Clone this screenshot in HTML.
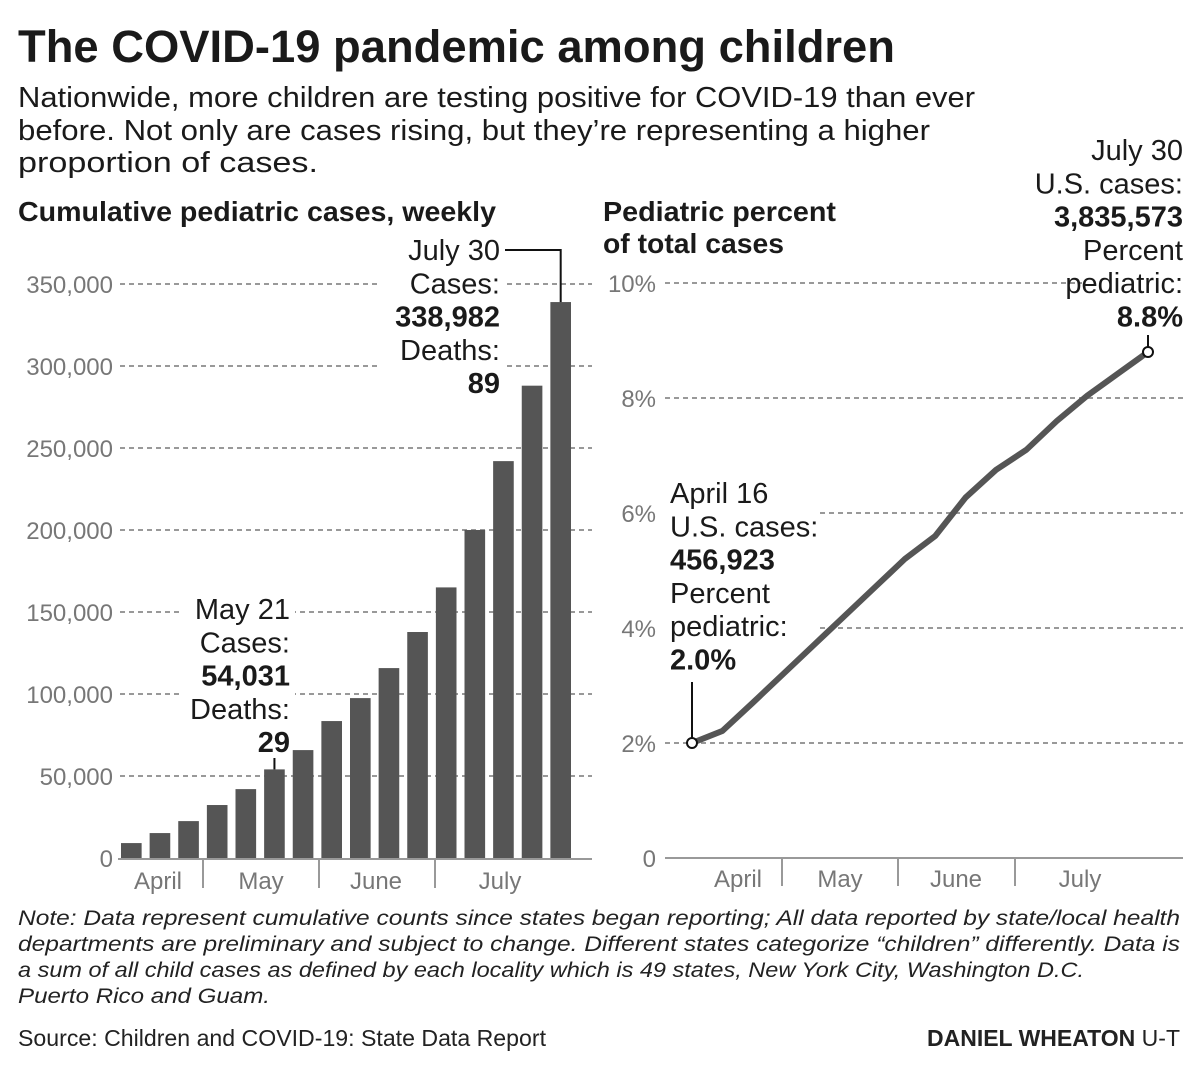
<!DOCTYPE html>
<html><head><meta charset="utf-8">
<style>
html,body{margin:0;padding:0;background:#fff;}
svg{display:block;font-family:"Liberation Sans Narrow","Liberation Sans",sans-serif;}
.ax{fill:#777;font-size:24px;}
.an{fill:#1a1a1a;font-size:29px;}
.b{font-weight:bold;}
</style></head>
<body>
<svg id="chart" width="1200" height="1074" viewBox="0 0 1200 1074">
<text x="18" y="62" font-size="45" font-weight="bold" fill="#1a1a1a" textLength="877" lengthAdjust="spacingAndGlyphs">The COVID-19 pandemic among children</text>
<g font-size="29" fill="#1a1a1a">
<text x="18" y="107" textLength="957" lengthAdjust="spacingAndGlyphs">Nationwide, more children are testing positive for COVID-19 than ever</text>
<text x="18" y="140" textLength="912" lengthAdjust="spacingAndGlyphs">before. Not only are cases rising, but they’re representing a higher</text>
<text x="18" y="172" textLength="300" lengthAdjust="spacingAndGlyphs">proportion of cases.</text>
</g>
<text x="18" y="221" font-size="28" font-weight="bold" fill="#1a1a1a" textLength="478" lengthAdjust="spacingAndGlyphs">Cumulative pediatric cases, weekly</text>
<text x="603" y="221" font-size="28" font-weight="bold" fill="#1a1a1a" textLength="233" lengthAdjust="spacingAndGlyphs">Pediatric percent</text>
<text x="603" y="253" font-size="28" font-weight="bold" fill="#1a1a1a" textLength="181" lengthAdjust="spacingAndGlyphs">of total cases</text>
<g id="left"></g>
<g id="right"></g>
<g font-size="21" font-style="italic" fill="#222">
<text x="18" y="925" textLength="1162" lengthAdjust="spacingAndGlyphs">Note: Data represent cumulative counts since states began reporting; All data reported by state/local health</text>
<text x="18" y="951" textLength="1162" lengthAdjust="spacingAndGlyphs">departments are preliminary and subject to change. Different states categorize “children” differently. Data is</text>
<text x="18" y="977" textLength="1066" lengthAdjust="spacingAndGlyphs">a sum of all child cases as defined by each locality which is 49 states, New York City, Washington D.C.</text>
<text x="18" y="1003" textLength="252" lengthAdjust="spacingAndGlyphs">Puerto Rico and Guam.</text>
</g>
<text x="18" y="1046" font-size="23" fill="#222" textLength="528" lengthAdjust="spacingAndGlyphs">Source: Children and COVID-19: State Data Report</text>
<text x="1180" y="1046" font-size="23" fill="#222" text-anchor="end"><tspan font-weight="bold">DANIEL WHEATON</tspan> U-T</text>
</svg>
<script>
const caseValues=[9100,15200,22500,32300,42000,54031,65800,83500,97500,115800,137800,165000,200000,242000,288000,338982];
const caseTicks=[0,50000,100000,150000,200000,250000,300000,350000];
const caseTickLabels=["0","50,000","100,000","150,000","200,000","250,000","300,000","350,000"];
const pctValues=[2.0,2.21,2.7,3.2,3.7,4.2,4.7,5.2,5.6,6.27,6.75,7.1,7.6,8.04,8.42,8.8];
const pctTicks=[0,2,4,6,8,10];
const pctTickLabels=["0","2%","4%","6%","8%","10%"];
const months=["April","May","June","July"];

const NS="http://www.w3.org/2000/svg";
function mk(p,tag,a,txt){const e=document.createElementNS(NS,tag);for(const k in a)e.setAttribute(k,a[k]);if(txt!==undefined)e.textContent=txt;p.appendChild(e);return e;}

// LEFT
const L=document.getElementById('left');
const yL=v=>858-v*(574/350000);
const nb=caseValues.length+1; // slot count
const xL0=120,xL1=578,pitch=(xL1-xL0)/caseValues.length;
const xLb=i=>xL0+i*pitch;
caseTicks.forEach((t,i)=>{
  const lab=mk(L,'text',{class:'ax',x:113,y:yL(t)+9,'text-anchor':'end'},caseTickLabels[i]);
  
  
  if(t>0){const g=mk(L,'line',{x1:120,x2:592,y1:yL(t),y2:yL(t),stroke:'#999','stroke-width':2,'stroke-dasharray':'5,4'});
  
  }
});
// white backgrounds for annotations
mk(L,'rect',{x:180,y:595,width:115,height:165,fill:'#fff'});
mk(L,'rect',{x:380,y:235,width:125,height:165,fill:'#fff'});
caseValues.forEach((v,i)=>{
  const r=mk(L,'rect',{x:xLb(i)+1,y:yL(v),width:pitch-8,height:858-yL(v),fill:'#555'});
  
  
});
const axL=mk(L,'line',{x1:118,x2:592,y1:859,y2:859,stroke:'#999','stroke-width':2});


[203,319,435].forEach(x=>{const t=mk(L,'line',{x1:x,x2:x,y1:859,y2:888,stroke:'#999','stroke-width':2});

});
[158,261,376,500].forEach((x,i)=>{const t=mk(L,'text',{class:'ax',x:x,y:889,'text-anchor':'middle'},months[i]);

});
function ann(p,x,y0,lines,anchor,name){const g=mk(p,'g',{});
lines.forEach((l,i)=>mk(g,'text',{class:'an'+(l[1]?' b':''),x:x,y:y0+i*33.3,'text-anchor':anchor},l[0]));}
ann(L,290,619,[["May 21"],["Cases:"],["54,031",1],["Deaths:"],["29",1]],'end','may-21-annotation');
ann(L,500,260,[["July 30"],["Cases:"],["338,982",1],["Deaths:"],["89",1]],'end','july-30-annotation');
const i5=5, i15=15;
mk(L,'line',{x1:xLb(i5)+(pitch-8)/2+1,x2:xLb(i5)+(pitch-8)/2+1,y1:758,y2:yL(caseValues[i5]),stroke:'#111','stroke-width':2});
const cx=xLb(i15)+(pitch-8)/2+1;
mk(L,'polyline',{points:`505,250 ${cx},250 ${cx},${yL(caseValues[i15])}`,fill:'none',stroke:'#111','stroke-width':2});

// RIGHT
const R=document.getElementById('right');
const yR=v=>858-v*57.5;
const xR=i=>692+i*(1148-692)/(pctValues.length-1);
pctTicks.forEach((t,i)=>{
  const lab=mk(R,'text',{class:'ax',x:656,y:yR(t)+9,'text-anchor':'end'},pctTickLabels[i]);
  
  
  if(t>0){const x1=(t===4||t===6)?820:665;const x2=t===10?1082:1183;
  const g=mk(R,'line',{x1:x1,x2:x2,y1:yR(t),y2:yR(t),stroke:'#999','stroke-width':2,'stroke-dasharray':'5,4'});
  
  }
});
const axR=mk(R,'line',{x1:665,x2:1183,y1:858,y2:858,stroke:'#999','stroke-width':2});


[782,898,1015].forEach(x=>{const t=mk(R,'line',{x1:x,x2:x,y1:858,y2:886,stroke:'#999','stroke-width':2});

});
[738,840,956,1080].forEach((x,i)=>{const t=mk(R,'text',{class:'ax',x:x,y:887,'text-anchor':'middle'},months[i]);

});
const line=mk(R,'polyline',{points:pctValues.map((v,i)=>xR(i)+','+yR(v)).join(' '),fill:'none',stroke:'#555','stroke-width':6,'stroke-linejoin':'round'});


ann(R,670,503,[["April 16"],["U.S. cases:"],["456,923",1],["Percent"],["pediatric:"],["2.0%",1]],'start','april-16-annotation');
ann(R,1183,160,[["July 30"],["U.S. cases:"],["3,835,573",1],["Percent"],["pediatric:"],["8.8%",1]],'end','july-30-pct-annotation');
const last=pctValues.length-1;
mk(R,'line',{x1:xR(0),x2:xR(0),y1:682,y2:yR(pctValues[0]),stroke:'#111','stroke-width':2});
mk(R,'line',{x1:xR(last),x2:xR(last),y1:335,y2:yR(pctValues[last]),stroke:'#111','stroke-width':2});
[0,last].forEach(i=>{const c=mk(R,'circle',{cx:xR(i),cy:yR(pctValues[i]),r:5,fill:'#fff',stroke:'#111','stroke-width':2});

});
</script>
</body></html>
